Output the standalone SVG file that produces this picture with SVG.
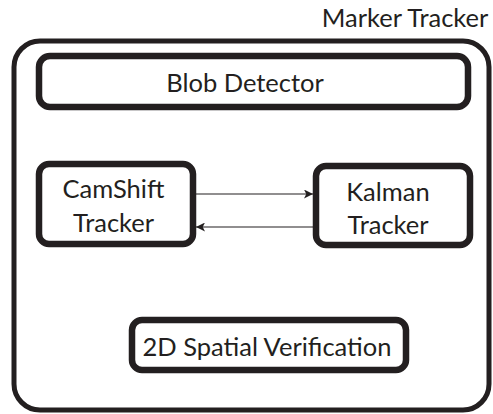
<svg xmlns="http://www.w3.org/2000/svg" width="493" height="414" viewBox="0 0 493 414">
  <style>
    .frame { fill: #ffffff; stroke: #231f20; stroke-width: 5; }
    .box { fill: #ffffff; stroke: #231f20; stroke-width: 6.5; }
    .label { font-family: Lato, "Open Sans", "Liberation Sans", sans-serif; font-size: 25.5px; fill: #231f20; text-anchor: middle; }
    .link { stroke: #231f20; stroke-width: 1.2; fill: none; }
  </style>
  <defs>
    <marker id="arrow" viewBox="0 0 10 10" refX="10" refY="5" markerUnits="userSpaceOnUse" markerWidth="10" markerHeight="9" orient="auto">
      <path d="M0,0 L10,5 L0,10 L2.5,5 Z" fill="#231f20"/>
    </marker>
  </defs>
  <rect width="493" height="414" fill="#ffffff"/>

  <!-- enclosing component -->
  <g id="marker-tracker">
    <rect class="frame" x="14" y="41" width="475" height="369" rx="26" ry="26"/>
    <text class="label" x="405" y="27">Marker Tracker</text>
  </g>

  <g id="blob-detector">
    <rect class="box" x="39" y="56" width="429" height="51" rx="11" ry="11"/>
    <text class="label" x="245" y="92">Blob Detector</text>
  </g>

  <g id="camshift-tracker">
    <rect class="box" x="39" y="164" width="154" height="80" rx="10" ry="10"/>
    <text class="label" x="113.5" y="198">CamShift</text>
    <text class="label" x="113.5" y="232">Tracker</text>
  </g>

  <g id="kalman-tracker">
    <rect class="box" x="316" y="166" width="154" height="79" rx="10" ry="10"/>
    <text class="label" x="388" y="201">Kalman</text>
    <text class="label" x="388" y="234">Tracker</text>
  </g>

  <g id="spatial-verification">
    <rect class="box" x="132" y="320" width="274" height="50" rx="10" ry="10"/>
    <text class="label" x="267" y="356">2D Spatial Verification</text>
  </g>

  <!-- data flow between the two trackers -->
  <g id="connectors">
    <line class="link" x1="196" y1="194" x2="313" y2="194" marker-end="url(#arrow)"/>
    <line class="link" x1="313" y1="227" x2="196" y2="227" marker-end="url(#arrow)"/>
  </g>
</svg>
